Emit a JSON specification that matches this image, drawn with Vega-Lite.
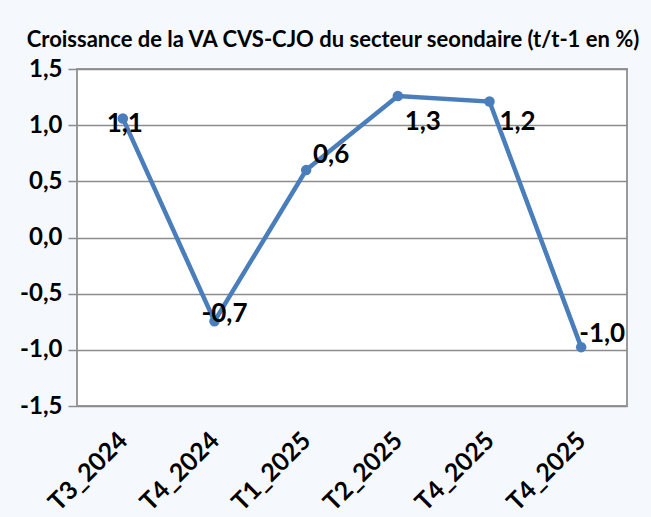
{
  "$schema": "https://vega.github.io/schema/vega-lite/v6.json",
  "autosize": "none",
  "width": 550,
  "height": 337,
  "padding": {"left": 77, "top": 69, "right": 24, "bottom": 111},
  "background": "#f5f8fc",
  "config": {
    "locale": {"number": {"decimal": ",", "thousands": " ", "grouping": [3], "currency": ["", " €"], "minus": "-"}},
    "view": {"fill": "white", "stroke": "#9a9a9a", "strokeWidth": 2},
    "font": "Lato"
  },
  "title": {
    "text": "Croissance de la VA CVS-CJO du secteur seondaire (t/t-1 en %)",
    "font": "Lato",
    "fontSize": 22,
    "fontWeight": "bold",
    "color": "black",
    "anchor": "middle",
    "dx": -19,
    "offset": 5
  },
  "data": {
    "values": [
      {"i": 1, "q": "T3_2024", "v": 1.06},
      {"i": 2, "q": "T4_2024", "v": -0.745},
      {"i": 3, "q": "T1_2025", "v": 0.6},
      {"i": 4, "q": "T2_2025", "v": 1.26},
      {"i": 5, "q": "T4_2025", "v": 1.21},
      {"i": 6, "q": "T4_2025 ", "v": -0.976}
    ]
  },
  "encoding": {
    "x": {
      "field": "q",
      "type": "ordinal",
      "sort": null,
      "scale": {"type": "point", "padding": 0.5},
      "axis": {
        "title": null,
        "labelAngle": -45,
        "labelAlign": "right",
        "labelBaseline": "middle",
        "labelPadding": 30,
        "ticks": false,
        "domain": false,
        "grid": false,
        "labelFont": "Lato",
        "labelFontSize": 25,
        "labelFontWeight": "bold",
        "labelColor": "black",
        "labelExpr": "trim(datum.label)"
      }
    },
    "y": {
      "field": "v",
      "type": "quantitative",
      "scale": {"domain": [-1.5, 1.5], "nice": false, "zero": false},
      "axis": {
        "title": null,
        "values": [-1.5, -1, -0.5, 0, 0.5, 1, 1.5],
        "format": ".1f",
        "grid": true,
        "gridColor": "#8c8c8c",
        "gridWidth": 1.5,
        "tickColor": "#8c8c8c",
        "tickSize": 9,
        "tickWidth": 1.5,
        "domain": false,
        "labelPadding": 6,
        "labelFont": "Lato",
        "labelFontSize": 24,
        "labelFontWeight": "bold",
        "labelColor": "black"
      }
    }
  },
  "layer": [
    {"mark": {"type": "line", "color": "#4a7ebb", "strokeWidth": 4.5}},
    {"mark": {"type": "point", "filled": true, "opacity": 1, "size": 110, "color": "#4a7ebb"}},
    {
      "transform": [{"filter": "datum.i == 1"}],
      "mark": {"type": "text", "dx": 2, "dy": 6, "fontSize": 26, "fontWeight": "bold", "font": "Lato", "color": "black"},
      "encoding": {"text": {"field": "v", "format": ".1f"}}
    },
    {
      "transform": [{"filter": "datum.i == 2"}],
      "mark": {"type": "text", "dx": 10, "dy": -7, "fontSize": 26, "fontWeight": "bold", "font": "Lato", "color": "black"},
      "encoding": {"text": {"field": "v", "format": ".1f"}}
    },
    {
      "transform": [{"filter": "datum.i == 3"}],
      "mark": {"type": "text", "dx": 25, "dy": -15, "fontSize": 26, "fontWeight": "bold", "font": "Lato", "color": "black"},
      "encoding": {"text": {"field": "v", "format": ".1f"}}
    },
    {
      "transform": [{"filter": "datum.i == 4"}],
      "mark": {"type": "text", "dx": 25, "dy": 26, "fontSize": 26, "fontWeight": "bold", "font": "Lato", "color": "black"},
      "encoding": {"text": {"field": "v", "format": ".1f"}}
    },
    {
      "transform": [{"filter": "datum.i == 5"}],
      "mark": {"type": "text", "dx": 28, "dy": 20, "fontSize": 26, "fontWeight": "bold", "font": "Lato", "color": "black"},
      "encoding": {"text": {"field": "v", "format": ".1f"}}
    },
    {
      "transform": [{"filter": "datum.i == 6"}],
      "mark": {"type": "text", "dx": 21, "dy": -13, "fontSize": 26, "fontWeight": "bold", "font": "Lato", "color": "black"},
      "encoding": {"text": {"field": "v", "format": ".1f"}}
    }
  ]
}
